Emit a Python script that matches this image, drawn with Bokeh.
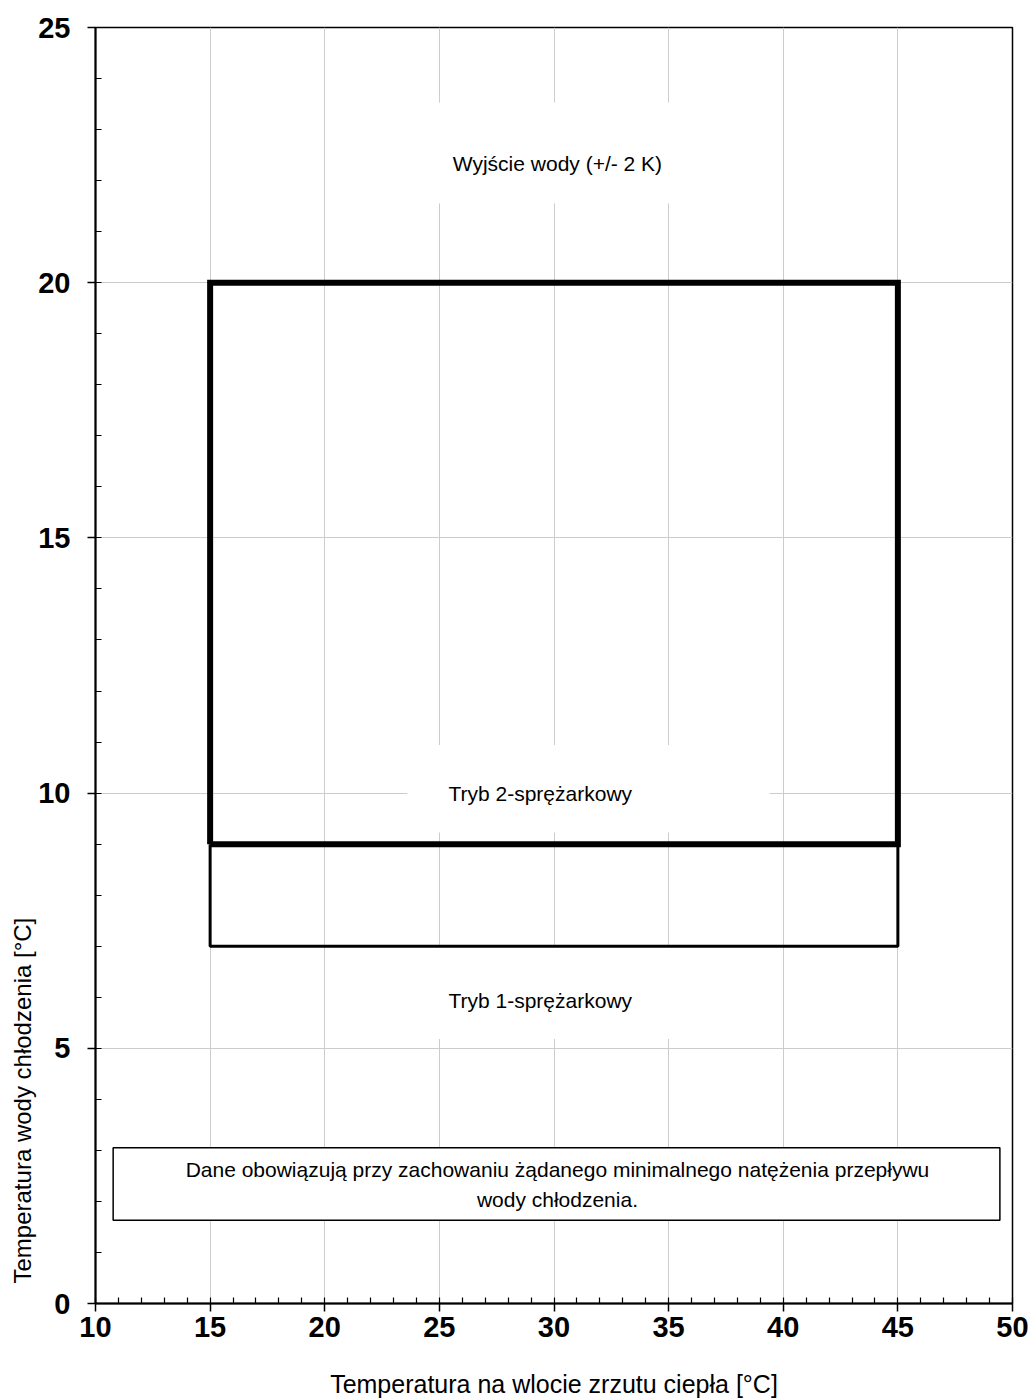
from bokeh.plotting import figure
from bokeh.models import Range1d, FixedTicker, Title
from bokeh.core.properties import value
from bokeh.embed import file_html
from bokeh.resources import INLINE

# ---- data ----
x_ticks = [10, 15, 20, 25, 30, 35, 40, 45, 50]
y_ticks = [0, 5, 10, 15, 20, 25]

# 2-compressor envelope (thick)
env2_x = [15, 45, 45, 15, 15]
env2_y = [9, 9, 20, 20, 9]
# 1-compressor extension (thin)
env1_x = [15, 15, 45, 45]
env1_y = [9, 7, 7, 9]

# label texts and positions (data coords)
lab_text = ["Wyjście wody (+/- 2 K)", "Tryb 2-sprężarkowy", "Tryb 1-sprężarkowy"]
lab_x = [30.15, 29.4, 29.4]
lab_y = [22.33, 10.0, 5.94]
# white backgrounds behind labels (left, right, bottom, top)
bg_left = [21.0, 23.6, 21.0]
bg_right = [39.3, 39.4, 38.8]
bg_bottom = [21.55, 9.23, 5.18]
bg_top = [23.53, 10.94, 7.0]

note_text = "Dane obowiązują przy zachowaniu żądanego minimalnego natężenia przepływu\nwody chłodzenia."
note_x = 30.15
note_y = 2.33
note_left, note_right, note_bottom, note_top = 10.77, 49.45, 1.63, 3.05

x_title = "Temperatura na wlocie zrzutu ciepła [°C]"
y_title = "Temperatura wody chłodzenia [°C]"

FONT = "Liberation Sans"

p = figure(frame_width=917, frame_height=1276, output_backend="svg", toolbar_location=None,
           x_range=Range1d(10, 50), y_range=Range1d(0, 25),
           min_border_left=95, min_border_right=20, min_border_top=27, min_border_bottom=97)

p.outline_line_color = "black"
p.outline_line_width = 1.5
p.background_fill_color = "white"

for ax, ticks in ((p.xaxis[0], x_ticks), (p.yaxis[0], y_ticks)):
    ax.ticker = FixedTicker(ticks=ticks, minor_ticks=list(range(0, 51)))
    ax.major_label_text_font = FONT
    ax.major_label_text_font_style = "bold"
    ax.major_label_text_font_size = "29px"
    ax.major_label_text_color = "black"
    ax.axis_line_color = "black"
    ax.axis_line_width = 2
    ax.major_tick_in = 0
    ax.major_tick_out = 8
    ax.major_tick_line_color = "black"
    ax.major_tick_line_width = 1.5
    ax.minor_tick_in = 6
    ax.minor_tick_out = 0
    ax.minor_tick_line_color = "black"
    ax.minor_tick_line_width = 1.2
    ax.axis_label_text_font = FONT
    ax.axis_label_text_font_style = "normal"
    ax.axis_label_text_font_size = "25px"
    ax.axis_label_text_color = "black"

p.xaxis[0].axis_label = x_title
p.xaxis[0].major_label_standoff = 5
p.xaxis[0].axis_label_standoff = 30
p.yaxis[0].major_label_standoff = 17

# y-axis title, bottom-aligned as in the reference
p.add_layout(Title(text=y_title, align="left", offset=20, standoff=0,
                   text_font=FONT, text_font_size="24px", text_font_style="normal",
                   text_color="black"), "left")

p.xgrid.grid_line_color = "#cccccc"
p.ygrid.grid_line_color = "#cccccc"
p.xgrid.grid_line_width = 1
p.ygrid.grid_line_width = 1

# white backgrounds hiding gridlines behind labels
p.quad(left=bg_left, right=bg_right, bottom=bg_bottom, top=bg_top,
       fill_color="white", line_color=None)

# envelopes
p.line(env1_x, env1_y, line_color="black", line_width=3)
p.line(env2_x, env2_y, line_color="black", line_width=6, line_join="miter")

p.text(x=lab_x, y=lab_y, text=lab_text, text_font=value(FONT), text_font_size="21px",
       text_align="center", text_baseline="middle", text_color="black")

# note box
p.quad(left=[note_left], right=[note_right], bottom=[note_bottom], top=[note_top],
       fill_color="white", line_color="black", line_width=1.5)
p.text(x=[note_x], y=[note_y], text=[note_text], text_font=value(FONT), text_font_size="21px",
       text_align="center", text_baseline="middle", text_color="black", text_line_height=1.3)

open("out.html", "w").write(file_html(p, INLINE))
